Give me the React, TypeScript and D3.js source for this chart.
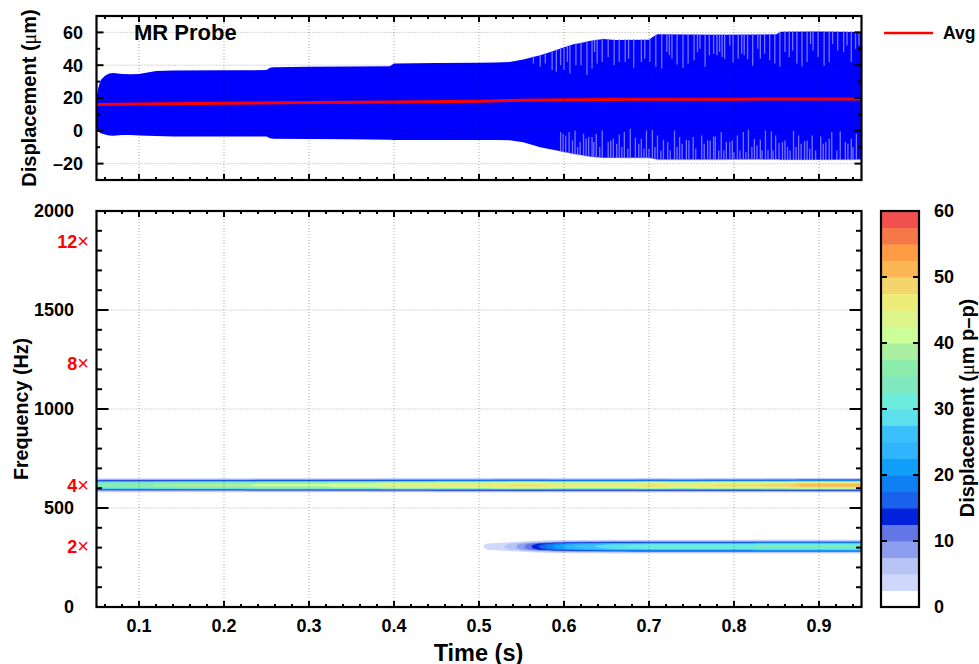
import React, { useEffect, useRef } from 'react'
import * as d3 from 'd3'

const FONT = '"Liberation Sans", Arial, sans-serif'

// top panel: envelope of the displacement signal
const envTimes = [0.05, 0.052, 0.055, 0.06, 0.065, 0.07, 0.08, 0.09, 0.1, 0.11, 0.12, 0.14, 0.2, 0.25, 0.254, 0.258, 0.3, 0.35, 0.395, 0.4, 0.45, 0.5, 0.52, 0.536, 0.552, 0.572, 0.584, 0.596, 0.611, 0.62, 0.63, 0.646, 0.66, 0.7, 0.706, 0.71, 0.78, 0.85, 0.855, 0.9, 0.95]
const envUpper = [20, 26, 31, 33.5, 35, 35.2, 34.6, 34.5, 34.6, 35.6, 36.4, 36.8, 36.9, 37, 38.4, 38.8, 39, 39.2, 39.4, 41, 41.4, 41.5, 41.6, 42, 43.5, 46, 48, 50.2, 52.7, 53.6, 54.7, 56, 55.4, 55.5, 57.8, 58.8, 58.6, 58.8, 60.4, 60.5, 60.3]
const envLower = [1, -0.5, -1.5, -2.2, -2.8, -3, -2.6, -2.5, -2.8, -3, -3.2, -3.4, -3.4, -3.5, -4.6, -4.8, -5, -5.2, -5.4, -5.6, -5.6, -5.6, -5.6, -5.8, -7, -10, -11.2, -12.4, -14, -14.8, -15.6, -16.4, -16.4, -16.5, -17, -17.5, -17.5, -17.4, -17.6, -17.6, -17.5]
const avgTimes = [0.05, 0.1, 0.2, 0.3, 0.4, 0.5, 0.55, 0.6, 0.7, 0.8, 0.95]
const avgValues = [16.1, 16.4, 16.8, 17.2, 17.6, 18, 18.6, 18.9, 19.2, 19.3, 19.4]

// cycles where the peak falls short of the envelope
const topDipTimes = [0.564, 0.572, 0.578, 0.586, 0.591, 0.596, 0.6, 0.604, 0.607, 0.614, 0.62, 0.627, 0.633, 0.636, 0.639, 0.645, 0.652, 0.659, 0.665, 0.672, 0.676, 0.682, 0.691, 0.695, 0.701, 0.708, 0.715, 0.721, 0.724, 0.727, 0.733, 0.74, 0.746, 0.753, 0.757, 0.76, 0.766, 0.771, 0.776, 0.78, 0.783, 0.786, 0.789, 0.795, 0.799, 0.805, 0.809, 0.812, 0.816, 0.822, 0.828, 0.831, 0.836, 0.842, 0.848, 0.854, 0.86, 0.865, 0.869, 0.874, 0.88, 0.886, 0.89, 0.893, 0.899, 0.906, 0.912, 0.916, 0.922, 0.929, 0.933, 0.938, 0.943, 0.947]
const topDipValues = [41, 39, 41, 37, 36, 40, 37, 42, 35, 40, 40, 34, 38, 48, 41, 42, 45, 40, 42, 42, 44, 38.5, 42, 44, 42, 39, 38, 48, 46, 44, 40.5, 38.5, 41, 43, 48, 50, 39, 46, 47, 46, 48, 45, 44, 52, 41.7, 44, 47, 46, 43.7, 39.7, 50, 44, 47, 43, 41, 39, 48, 45, 49, 41, 39, 42, 53, 49, 45, 39.7, 42, 53, 49, 48, 52, 42, 50, 52]
const lowDipTimes = [0.596, 0.599, 0.602, 0.606, 0.61, 0.613, 0.616, 0.619, 0.623, 0.626, 0.629, 0.633, 0.635, 0.638, 0.642, 0.645, 0.652, 0.655, 0.658, 0.662, 0.665, 0.668, 0.671, 0.675, 0.678, 0.684, 0.688, 0.691, 0.694, 0.697, 0.7, 0.704, 0.707, 0.71, 0.714, 0.717, 0.722, 0.725, 0.73, 0.733, 0.736, 0.739, 0.744, 0.747, 0.752, 0.755, 0.762, 0.765, 0.769, 0.772, 0.776, 0.778, 0.782, 0.785, 0.788, 0.791, 0.795, 0.798, 0.8, 0.804, 0.807, 0.811, 0.814, 0.817, 0.821, 0.824, 0.827, 0.831, 0.833, 0.837, 0.84, 0.844, 0.846, 0.849, 0.853, 0.857, 0.86, 0.863, 0.866, 0.87, 0.873, 0.876, 0.879, 0.883, 0.886, 0.889, 0.892, 0.896, 0.902, 0.905, 0.908, 0.912, 0.915, 0.921, 0.925, 0.931, 0.934, 0.938, 0.94, 0.944]
const lowDipValues = [-0.8, -1.8, -2.8, -0.8, -5.9, 0.2, -9.9, -6.9, -1.8, -4.8, -3.8, -3.8, -6.9, -1.8, -9.9, 0.2, -6.9, -5.9, -4.8, -7.9, -2.2, -9.9, -0.8, -11, 1.3, -4.2, -7.9, -4.8, -11, 0.2, -11, 0.6, -9.9, -2.8, -12, -5.5, -6.9, -12, 0.2, -9.9, -3.8, -7.9, -5.5, -5.9, -3.8, -11, -2.8, -7.9, -5.9, -5.9, -3.4, -3.4, -12, -0.8, -12, -6.9, -6.9, -5.9, -13, -2.8, -12, -0.8, -13, 0.6, -9.9, -4.8, -8.9, -5.5, -12, 0.2, -11.5, -0.2, -12, -2.8, -7.5, -6.9, -5.9, -9.9, -12, 0.2, -9.9, -2.8, -7.9, -6.3, -5.9, -11, -2.8, -12, -3.4, -7.9, -6.9, -4.8, -0.8, -12, -0.2, -6.9, -7.9, -4.8, -9.9, -1.8]

// bottom panel: amplitude of the two harmonics, one value every 0.01 s from 0.05 to 0.95
const peak4x = [35, 36, 36, 37, 37, 37, 37, 38, 38, 38, 39, 39, 39, 39, 39, 39, 39, 39, 40, 41, 41, 41, 41, 41, 41, 41, 41, 41, 42, 42, 42, 42, 42, 43, 44, 45, 45, 45, 45, 45, 46, 46, 46, 46, 46, 46, 46, 47, 47, 48, 48, 48, 48, 47, 46, 46, 46, 46, 46, 46, 46, 46, 46, 46, 47, 48, 48, 47, 46, 46, 46, 47, 47, 48, 48, 48, 48, 48, 48, 49, 49, 49, 50, 51, 51, 51, 51, 51, 51, 51, 51]
const peak2x = [0, 0, 0, 0, 0, 0, 0, 0, 0, 0, 0, 0, 0, 0, 0, 0, 0, 0, 0, 0, 0, 0, 0, 0, 0, 0, 0, 0, 0, 0, 0, 0, 0, 0, 0, 0, 0, 0, 0, 0, 0, 0, 0, 0, 0, 2, 3, 4, 5, 6.5, 9, 12, 15, 18, 21, 23, 25, 26, 27, 28, 29, 30, 30, 31, 31, 32, 32, 32, 32, 32, 32, 32, 32, 32, 32, 32, 32, 32, 33, 33, 33, 33, 33, 33, 33, 33, 33, 33, 33, 33, 33]
const harmonicHz = [615, 305]
// share of the peak left at 0, 5, 10 ... Hz away from the line centre
const lineProfile = [1, 0.98, 0.95, 0.85, 0.55, 0.3, 0.17, 0.07, 0]

const bandColors = ['#ffffff', '#d0d8fb', '#b8c4f6', '#8e9eef', '#6476e6', '#0022dd', '#1a62ec', '#0e80f4', '#10a0fa', '#30b4fc', '#3cc0fc', '#5ce0ec', '#6cecdc', '#80e8bc', '#8cecac', '#aaf0a0', '#ccff99', '#dcf48a', '#eeec78', '#f4d46c', '#fdb655', '#ff9c44', '#f47848', '#f05050']
const bandStep = 2.5

const orderLabels = ['2', '4', '8', '12']
const orderHz = [305, 613, 1227, 1843]

const xMajor = [0.1, 0.2, 0.3, 0.4, 0.5, 0.6, 0.7, 0.8, 0.9]
const xMinor = [0.06, 0.08, 0.12, 0.14, 0.16, 0.18, 0.22, 0.24, 0.26, 0.28, 0.32, 0.34, 0.36, 0.38, 0.42, 0.44, 0.46, 0.48, 0.52, 0.54, 0.56, 0.58, 0.62, 0.64, 0.66, 0.68, 0.72, 0.74, 0.76, 0.78, 0.82, 0.84, 0.86, 0.88, 0.92, 0.94]
const dispMajor = [-20, 0, 20, 40, 60]
const dispMinor = [-10, 10, 30, 50]
const freqMajor = [0, 500, 1000, 1500, 2000]
const freqMinor = [100, 200, 300, 400, 600, 700, 800, 900, 1100, 1200, 1300, 1400, 1600, 1700, 1800, 1900]
const colorMajor = [0, 10, 20, 30, 40, 50, 60]

const App = () => {
  const svgRef = useRef<SVGSVGElement>(null)

  useEffect(() => {
    const svg = d3.select(svgRef.current)
    svg.selectAll('*').remove()

    const x = d3.scaleLinear().domain([0.05, 0.95]).range([96.5, 861.5])
    const yDisp = d3.scaleLinear().domain([-30, 70]).range([180, 16])
    const yFreq = d3.scaleLinear().domain([0, 2000]).range([607, 211])
    const yColor = d3.scaleLinear().domain([0, 60]).range([607, 211])

    const defs = svg.append('defs')
    defs.append('clipPath').attr('id', 'clip-top').append('rect')
      .attr('x', 96.5).attr('y', 16).attr('width', 765).attr('height', 164)
    defs.append('clipPath').attr('id', 'clip-bottom').append('rect')
      .attr('x', 96.5).attr('y', 211).attr('width', 765).attr('height', 396)

    const label = (lx: number, ly: number, text: string, size: number, anchor = 'end', fill = '#000') =>
      svg.append('text')
        .attr('x', lx).attr('y', ly)
        .attr('text-anchor', anchor)
        .attr('font-family', FONT).attr('font-weight', 'bold')
        .attr('font-size', size).attr('fill', fill)
        .text(text)

    const rotated = (cx: number, cy: number, parts: string[][], size: number) => {
      const t = svg.append('text')
        .attr('transform', `translate(${cx},${cy}) rotate(-90)`)
        .attr('text-anchor', 'middle')
        .attr('font-family', FONT).attr('font-weight', 'bold')
        .attr('font-size', size)
      parts.forEach(([s, kind]) => {
        const span = t.append('tspan').text(s)
        if (kind === 'greek') {
          span.attr('font-family', '"Liberation Serif", serif').attr('font-weight', 'normal')
        }
      })
    }

    const grid = (yScale: d3.ScaleLinear<number, number>, yTicks: number[], clip: string) => {
      const g = svg.append('g')
        .attr('clip-path', `url(#${clip})`)
        .attr('stroke', '#000').attr('stroke-opacity', 0.33)
        .attr('stroke-width', 1).attr('stroke-dasharray', '1,2')
      const [y0, y1] = yScale.range()
      xMajor.forEach((t) => {
        g.append('line').attr('x1', x(t)).attr('x2', x(t)).attr('y1', y0).attr('y2', y1)
      })
      yTicks.forEach((v) => {
        g.append('line').attr('x1', 96.5).attr('x2', 861.5).attr('y1', yScale(v)).attr('y2', yScale(v))
      })
    }

    const frameAndTicks = (
      yScale: d3.ScaleLinear<number, number>,
      yMajor: number[],
      yMinor: number[],
      yMajorLen: number,
      yMinorLen: number,
    ) => {
      const g = svg.append('g').attr('stroke', '#000').attr('stroke-width', 2)
      const [y0, y1] = yScale.range()
      const tickX = (vals: number[], len: number) =>
        vals.forEach((t) => {
          g.append('line').attr('x1', x(t)).attr('x2', x(t)).attr('y1', y0).attr('y2', y0 - len)
          g.append('line').attr('x1', x(t)).attr('x2', x(t)).attr('y1', y1).attr('y2', y1 + len)
        })
      const tickY = (vals: number[], len: number) =>
        vals.forEach((v) => {
          g.append('line').attr('x1', 96.5).attr('x2', 96.5 + len).attr('y1', yScale(v)).attr('y2', yScale(v))
          g.append('line').attr('x1', 861.5).attr('x2', 861.5 - len).attr('y1', yScale(v)).attr('y2', yScale(v))
        })
      tickX(xMajor, 6)
      tickX(xMinor, 3)
      tickY(yMajor, yMajorLen)
      tickY(yMinor, yMinorLen)
      g.append('rect').attr('x', 96.5).attr('y', y1).attr('width', 765).attr('height', y0 - y1)
        .attr('fill', 'none').attr('stroke-width', 2.2)
    }

    // top panel
    const top = svg.append('g').attr('clip-path', 'url(#clip-top)')
    const area = d3.area<number>()
      .x((d) => x(envTimes[d]))
      .y0((d) => yDisp(envLower[d]))
      .y1((d) => yDisp(envUpper[d]))
    top.append('path').attr('d', area(d3.range(envTimes.length))).attr('fill', '#0000ff')

    const upperAt = d3.scaleLinear().domain(envTimes).range(envUpper)
    const lowerAt = d3.scaleLinear().domain(envTimes).range(envLower)
    topDipTimes.forEach((t, i) => {
      top.append('line')
        .attr('x1', x(t)).attr('x2', x(t))
        .attr('y1', yDisp(upperAt(t) + 0.4)).attr('y2', yDisp(topDipValues[i]))
        .attr('stroke', '#8080ff').attr('stroke-width', 1.3).attr('stroke-opacity', 0.9)
    })
    lowDipTimes.forEach((t, i) => {
      top.append('line')
        .attr('x1', x(t)).attr('x2', x(t))
        .attr('y1', yDisp(lowerAt(t) - 0.4)).attr('y2', yDisp(lowDipValues[i]))
        .attr('stroke', '#8080ff').attr('stroke-width', 1.3).attr('stroke-opacity', 0.9)
    })

    const avgLine = d3.line<number>()
      .x((d) => x(d))
      .y((_, i) => yDisp(avgValues[i]))
    top.append('path').attr('d', avgLine(avgTimes))
      .attr('fill', 'none').attr('stroke', '#ff0000').attr('stroke-width', 3)

    grid(yDisp, dispMajor, 'clip-top')
    frameAndTicks(yDisp, dispMajor, dispMinor, 7, 3.5)

    dispMajor.forEach((v) => {
      label(83, yDisp(v) + 6.3, v < 0 ? `\u2013${-v}` : `${v}`, 18)
    })
    label(134, 40, 'MR Probe', 22, 'start')
    rotated(36, 98, [['Displacement ('], ['\u03bc', 'greek'], ['m)']], 20)

    svg.append('line').attr('x1', 884).attr('x2', 933).attr('y1', 33).attr('y2', 33)
      .attr('stroke', '#ff0000').attr('stroke-width', 2.4)
    label(943, 39, 'Avg', 17.5, 'start')

    // bottom panel: contour bands built from the harmonic amplitudes
    const nCols = peak4x.length
    const hzStep = 5
    const nRows = 2000 / hzStep + 1
    const values = new Array(nCols * nRows).fill(0)
    const peaks = [peak4x, peak2x]
    peaks.forEach((peak, h) => {
      const centerRow = harmonicHz[h] / hzStep
      lineProfile.forEach((share, k) => {
        for (let c = 0; c < nCols; c++) {
          values[(centerRow + k) * nCols + c] = peak[c] * share
          values[(centerRow - k) * nCols + c] = peak[c] * share
        }
      })
    })
    const thresholds = bandColors.slice(1).map((_, i) => (i + 1) * bandStep)
    const contours = d3.contours().size([nCols, nRows]).thresholds(thresholds).smooth(true)(values)
    const toScreen = d3.geoTransform({
      point(px, py) {
        this.stream.point(x(0.05 + (px - 0.5) * 0.01), yFreq((py - 0.5) * hzStep))
      },
    })
    const contourPath = d3.geoPath(toScreen)
    svg.append('g').attr('clip-path', 'url(#clip-bottom)')
      .selectAll('path')
      .data(contours)
      .enter()
      .append('path')
      .attr('d', (d) => contourPath(d))
      .attr('fill', (_, i) => bandColors[i + 1])

    grid(yFreq, freqMajor, 'clip-bottom')
    frameAndTicks(yFreq, freqMajor, freqMinor, 12, 5.5)

    freqMajor.forEach((v) => {
      label(74, yFreq(v) + 6.3, `${v}`, 18)
    })
    orderLabels.forEach((o, i) => {
      const t = label(89, yFreq(orderHz[i]) + 6.3, o, 18, 'end', '#ff0000')
      t.append('tspan').attr('font-weight', 'normal').attr('font-size', 20).text('\u00d7')
    })
    xMajor.forEach((t) => {
      label(x(t), 632, `${t}`, 18, 'middle')
    })
    label(478.5, 660.5, 'Time (s)', 23.5, 'middle')
    rotated(27.5, 409, [['Frequency (Hz)']], 19.7)

    // colour bar
    bandColors.forEach((c, i) => {
      svg.append('rect')
        .attr('x', 881).attr('width', 38)
        .attr('y', yColor((i + 1) * bandStep))
        .attr('height', yColor(i * bandStep) - yColor((i + 1) * bandStep) + 0.5)
        .attr('fill', c)
    })
    colorMajor.forEach((v) => {
      if (v > 0 && v < 60) {
        svg.append('line').attr('x1', 881).attr('x2', 887).attr('y1', yColor(v)).attr('y2', yColor(v))
          .attr('stroke', '#000').attr('stroke-width', 2)
        svg.append('line').attr('x1', 919).attr('x2', 913).attr('y1', yColor(v)).attr('y2', yColor(v))
          .attr('stroke', '#000').attr('stroke-width', 2)
      }
      label(934, yColor(v) + 6.3, `${v}`, 18, 'start')
    })
    svg.append('rect').attr('x', 881).attr('y', 211).attr('width', 38).attr('height', 396)
      .attr('fill', 'none').attr('stroke', '#000').attr('stroke-width', 2.2)
    rotated(974, 408, [['Displacement ('], ['\u03bc', 'greek'], ['m p\u2013p)']], 20)
  }, [])

  return (
    <svg
      ref={svgRef}
      width={979}
      height={664}
      style={{ position: 'absolute', left: 0, top: 0, display: 'block', background: '#fff' }}
    />
  )
}

export default App
